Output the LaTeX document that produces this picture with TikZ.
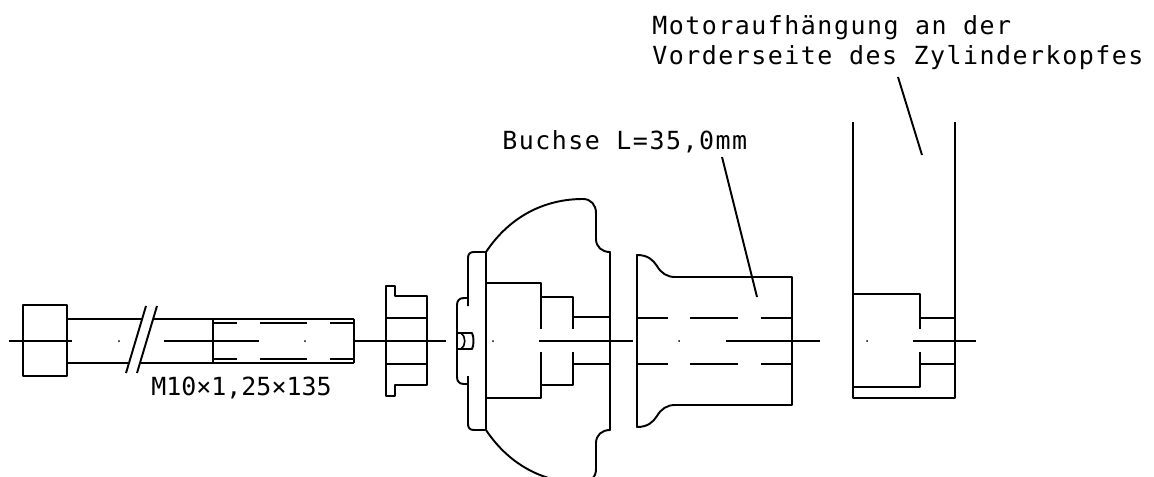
\documentclass[tikz,border=0pt]{standalone}
\usepackage{fontspec}
\setmonofont{DejaVu Sans Mono}
\begin{document}
\begin{tikzpicture}[x=0.02cm, y=-0.02cm,
    part/.style={line width=1.1pt, line join=round},
    thinpart/.style={line width=0.9pt},
    label/.style={anchor=base west, inner sep=0pt, font=\ttfamily\fontsize{14.2}{14.2}\selectfont\addfontfeature{LetterSpace=6}}]
    %--------------------%
    % Parameters
    %--------------------%
    \def\cy{341}
    \def\uh{318}
    \def\ul{364}

    \useasboundingbox (0,0) rectangle (1154,477);
    \clip (0,0) rectangle (1154,477);

    %--------------------%
    % Labels
    %--------------------%
    \node[label] (mount1) at (652,34) {Motoraufhängung an der};
    \node[label] (mount2) at (652,64) {Vorderseite des Zylinderkopfes};
    \node[label] (bush) at (502,149) {Buchse L=35,0mm};
    \node[label, font=\ttfamily\fontsize{14.2}{14.2}\selectfont] (bolt) at (151,395) {M10×1,25×135};

    %--------------------%
    % Bolt
    %--------------------%
    \draw[part] (23,305) rectangle (67,376);
    \draw[part] (67,319) -- (143,319) (153,319) -- (354,319);
    \draw[part] (67,363) -- (130,363) (140,363) -- (354,363);
    \draw[part] (146,306) -- (126,373);
    \draw[part] (157,306) -- (137,373);
    \draw[part] (213,319) -- (213,363);
    \draw[part] (354,319) -- (354,363);
    % Thread
    \foreach \ty in {323,359} {
        \draw[part] (213,\ty) -- (237,\ty) (260,\ty) -- (307,\ty) (330,\ty) -- (354,\ty);
    }
    \draw[part] (9,\cy) -- (72,\cy);
    \fill (119,\cy) circle (1);
    \draw[part] (164,\cy) -- (259,\cy);
    \fill (305,\cy) circle (1);
    \draw[part] (353,\cy) -- (446,\cy);

    %--------------------%
    % Washer
    %--------------------%
    \draw[part] (386,286) -- (395,286) -- (395,296) -- (427,296) -- (427,385)
        -- (395,385) -- (395,396) -- (386,396) -- cycle;
    \draw[part] (386,\uh) -- (427,\uh);
    \draw[part] (386,\ul) -- (427,\ul);

    %--------------------%
    % Mount
    %--------------------%
    % Outer body
    \draw[part] (486,252) .. controls (510,216) and (545,199) .. (583,199)
        .. controls (591,199) and (596,205) .. (596,213) -- (596,239)
        .. controls (596,247) and (602,252) .. (610,252) -- (610,430)
        .. controls (602,430) and (596,435) .. (596,443) -- (596,469)
        .. controls (596,477) and (591,483) .. (583,483)
        .. controls (545,483) and (510,466) .. (486,430) -- cycle;
    % Front plate
    \draw[part] (486,252) -- (474,252) .. controls (470,252) and (468,254) .. (468,258) -- (468,306);
    \draw[part] (486,430) -- (474,430) .. controls (470,430) and (468,428) .. (468,424) -- (468,376);
    \draw[part] (468,298) -- (464,298) .. controls (459,298) and (457,301) .. (457,305)
        -- (457,377) .. controls (457,381) and (459,384) .. (464,384) -- (468,384);
    % Screw head
    \draw[part] (457,333) -- (472,333) .. controls (474,336) and (474,346) .. (472,349) -- (457,349);
    \draw[thinpart] (461,333) .. controls (466,336) and (466,346) .. (461,349);
    % Stepped bore
    \draw[part] (486,283) -- (541,283) -- (541,329);
    \draw[part] (486,398) -- (541,398) -- (541,352);
    \draw[part] (541,297) -- (573,297) -- (573,329);
    \draw[part] (541,385) -- (573,385) -- (573,352);
    \draw[part] (573,\uh-1) -- (610,\uh-1);
    \draw[part] (573,\ul) -- (610,\ul);
    \fill (493,\cy) circle (1);
    \draw[part] (539,\cy) -- (633,\cy);

    %--------------------%
    % Bush
    %--------------------%
    \draw[part] (637,255) .. controls (648,255) and (653,260) .. (657,266)
        .. controls (661,273) and (667,277) .. (675,277) -- (792,277) -- (792,405) -- (675,405)
        .. controls (667,405) and (661,409) .. (657,416)
        .. controls (653,422) and (648,427) .. (637,427) -- cycle;
    \foreach \ty in {\uh,\ul} {
        \draw[part] (637,\ty) -- (668,\ty) (690,\ty) -- (738,\ty) (761,\ty) -- (792,\ty);
    }
    \fill (679,\cy) circle (1);
    \draw[part] (726,\cy) -- (820,\cy);
    \draw[part] (722,157) -- (757,297);

    %--------------------%
    % Cylinder head
    %--------------------%
    \draw[part] (853,122) -- (853,398) -- (955,398) -- (955,122);
    \draw[part] (853,294) -- (920,294) -- (920,329);
    \draw[part] (853,387) -- (920,387) -- (920,352);
    \draw[part] (920,\uh) -- (955,\uh);
    \draw[part] (920,\ul) -- (955,\ul);
    \fill (867,\cy) circle (1);
    \draw[part] (913,\cy) -- (976,\cy);
    \draw[part] (898,77) -- (922,155);
\end{tikzpicture}
\end{document}
